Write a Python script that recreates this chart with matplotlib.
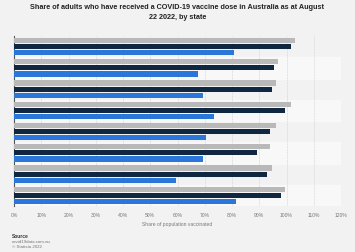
import matplotlib.pyplot as plt
import numpy as np

plt.rcParams['font.family'] = ['Liberation Sans', 'DejaVu Sans']

# one group per state (state names are not shown in the chart)
groups = list(range(8))
first_dose = [103.2, 96.9, 96.1, 101.5, 96.1, 94.0, 94.7, 99.6]
second_dose = [101.5, 95.3, 94.5, 99.6, 93.9, 89.0, 93.0, 98.1]
third_dose = [80.6, 67.5, 69.5, 73.4, 70.5, 69.5, 59.6, 81.3]
ticks = list(range(0, 121, 10))

fig = plt.figure(figsize=(3.55, 2.53), dpi=100)
fig.patch.set_facecolor('#f2f2f2')
ax = fig.add_axes([14 / 355, 1 - 207 / 253, 327 / 355, 170 / 253])
ax.set_facecolor('#f2f2f2')

y = np.arange(len(groups))
for i in y:
    if i % 2 == 1:
        ax.axhspan(i - 0.5, i + 0.5, color='#f8f8f8', zorder=0)

off = 0.285
h = 0.245
ax.barh(y - off, first_dose, height=h, color='#b9b9b9', zorder=3)
ax.barh(y, second_dose, height=h, color='#0f2740', zorder=3)
ax.barh(y + off, third_dose, height=h, color='#2b77d9', zorder=3)

ax.set_xlim(0, 120)
ax.set_ylim(len(groups) - 0.5, -0.5)
ax.set_xticks(ticks)
ax.set_xticklabels([f'{t}%' for t in ticks], fontsize=3.6, color='#777777')
ax.set_yticks([])
ax.tick_params(axis='x', length=0, pad=4)
ax.grid(axis='x', color='#dadada', linewidth=0.5, linestyle=(0, (3, 1)), zorder=1)
for s in ['top', 'right', 'bottom']:
    ax.spines[s].set_visible(False)
ax.spines['left'].set_color('#555555')
ax.spines['left'].set_linewidth(0.8)
ax.set_xlabel('Share of population vaccinated', fontsize=3.6, color='#777777', labelpad=3)

fig.text(0.5, 1 - 4 / 253, 'Share of adults who have received a COVID-19 vaccine dose in Australia as at August\n22 2022, by state',
         ha='center', va='top', fontsize=5.25, fontweight='bold', color='#222222', linespacing=1.55)

fig.text(12 / 355, 1 - 236 / 253, 'Source', fontsize=3.5, fontweight='bold', color='#333333', va='center')
fig.text(12 / 355, 1 - 242 / 253, 'covid19data.com.au', fontsize=3.2, color='#777777', va='center')
fig.text(12 / 355, 1 - 247.5 / 253, '© Statista 2022', fontsize=3.2, color='#777777', va='center')

fig.savefig('out.png', dpi=100, facecolor=fig.get_facecolor())
